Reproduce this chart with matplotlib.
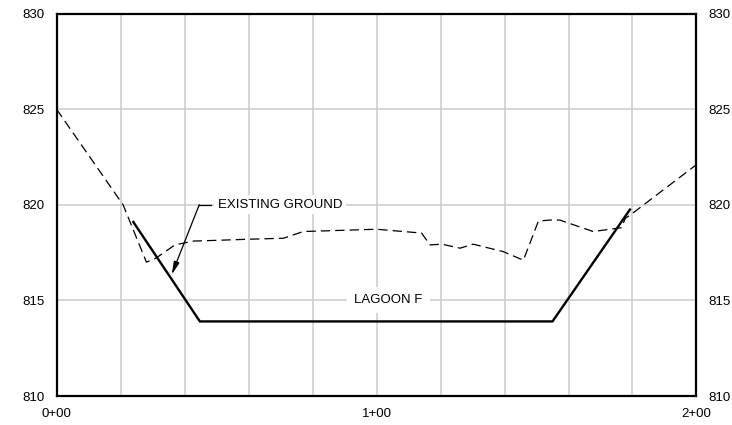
import matplotlib
matplotlib.use("Agg")
import matplotlib.pyplot as plt

plt.rcParams["font.family"] = ["Liberation Sans", "DejaVu Sans"]
plt.rcParams["font.size"] = 9.5

# existing ground profile (station ft, elevation ft)
ground_sta = [0, 20.8, 28.1, 31.0, 37.0, 42.7, 60.5, 70.9, 77.1, 100.0, 114.1,
              116.7, 120.4, 126.1, 130.2, 139.6, 145.9, 150.6, 154.2, 157.3,
              167.7, 176.5, 177.8, 179.2, 200.0]
ground_elev = [825.0, 820.0, 817.0, 817.2, 817.9, 818.1, 818.2, 818.25, 818.6,
               818.72, 818.52, 817.9, 817.94, 817.73, 817.94, 817.55, 817.1,
               819.15, 819.2, 819.2, 818.6, 818.8, 819.3, 819.45, 822.1]

# lagoon cross section
lagoon_sta = [24.0, 44.8, 155.0, 179.2]
lagoon_elev = [819.1, 813.9, 813.9, 819.75]

x_ticks = [0, 100, 200]
x_labels = ["0+00", "1+00", "2+00"]
y_ticks = [810, 815, 820, 825, 830]

fig = plt.figure(figsize=(7.32, 4.25), dpi=100)
ax = fig.add_axes([0.0772, 0.0682, 0.8743, 0.9])

ax.set_xlim(0, 200)
ax.set_ylim(810, 830)
ax.set_xticks(x_ticks)
ax.set_xticklabels(x_labels)
ax.set_xticks(range(0, 201, 20), minor=True)
ax.set_yticks(y_ticks)
ax.tick_params(axis="both", which="both", length=0)
ax.tick_params(axis="x", pad=8.5)
ax.tick_params(axis="y", pad=8.5, labelright=True, right=False)
ax.grid(True, which="both", color="#cccccc", linewidth=1.1, zorder=0)
ax.set_axisbelow(True)
for s in ax.spines.values():
    s.set_linewidth(1.6)

ax.plot(ground_sta, ground_elev, color="black", linewidth=0.9,
        dashes=(7.5, 4), zorder=3)
ax.plot(lagoon_sta, lagoon_elev, color="black", linewidth=1.7, zorder=3)

box = dict(facecolor="white", edgecolor="none", pad=2.5)
ax.text(50.4, 820, "EXISTING GROUND", ha="left", va="center", bbox=box, zorder=4)
ax.text(103.8, 815, "LAGOON F", ha="center", va="center",
        bbox=dict(facecolor="white", edgecolor="none", pad=5), zorder=4)

# leader for existing ground label
ax.plot([44.6, 48.2], [820, 820], color="black", linewidth=0.9, zorder=5)
ax.annotate("", xy=(36.0, 816.35), xytext=(44.6, 820),
            arrowprops=dict(arrowstyle="-|>,head_length=0.8,head_width=0.18",
                            color="black", linewidth=0.9, shrinkA=0, shrinkB=0),
            zorder=5)

fig.savefig("out.png", dpi=100)
